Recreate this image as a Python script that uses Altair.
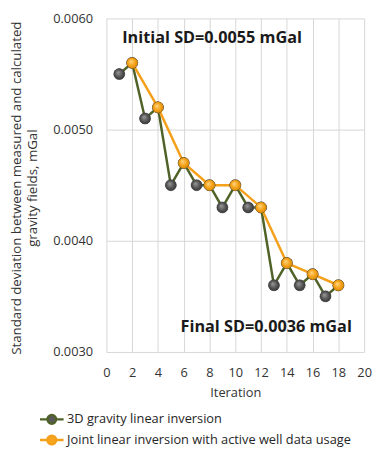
import altair as alt
import pandas as pd

# Data
iter_3d = list(range(1, 19))
sd_3d = [0.0055, 0.0056, 0.0051, 0.0052, 0.0045, 0.0047, 0.0045, 0.0045, 0.0043,
         0.0045, 0.0043, 0.0043, 0.0036, 0.0038, 0.0036, 0.0037, 0.0035, 0.0036]
iter_joint = [2, 4, 6, 8, 10, 12, 14, 16, 18]
sd_joint = [0.0056, 0.0052, 0.0047, 0.0045, 0.0045, 0.0043, 0.0038, 0.0037, 0.0036]
series_names = ["3D gravity linear inversion", "Joint linear inversion with active well data usage"]

ann_text = ["Initial SD=0.0055 mGal", "Final SD=0.0036 mGal"]
ann_x = [8.2, 12.4]
ann_y = [0.00582, 0.00322]

x_ticks = list(range(0, 21, 2))
y_ticks = [0.0030, 0.0040, 0.0050, 0.0060]

df = pd.DataFrame({
    "Iteration": iter_3d + iter_joint,
    "SD": sd_3d + sd_joint,
    "Series": [series_names[0]] * len(iter_3d) + [series_names[1]] * len(iter_joint),
})
ann = pd.DataFrame({"text": ann_text, "Iteration": ann_x, "SD": ann_y})

FONT = "Open Sans"
line_colors = ["#4f6228", "#f5a01a"]
fill_colors = ["#595959", "#f7a51e"]

xenc = alt.X("Iteration:Q", scale=alt.Scale(domain=[0, 20], nice=False),
             axis=alt.Axis(values=x_ticks, title="Iteration", labelPadding=15, titlePadding=7,
                           labelOverlap=False, labelFlush=False, grid=True,
                           gridColor="#d6d6d6", gridWidth=1, tickSize=0))
yenc = alt.Y("SD:Q", scale=alt.Scale(domain=[0.003, 0.006], nice=False, zero=False),
             axis=alt.Axis(values=y_ticks, format=".4f", grid=True, labelOverlap=False,
                           gridColor="#d6d6d6", gridWidth=1, tickSize=0,
                           title=["Standard deviation between measured and calculated",
                                  "gravity fields, mGal"],
                           labelPadding=14, titlePadding=13, titleFontSize=13.5,
                           titleLineHeight=17, titleY=172))

legend_path = ("M-3,0 L-1.1,0 M1.1,0 L3,0 "
               "M1.1,0 A1.1,1.1 0 1,1 -1.1,0 A1.1,1.1 0 1,1 1.1,0 Z")

legend = alt.Legend(title=None, orient="none", legendX=-62, legendY=401,
                    symbolType=legend_path, symbolSize=64, symbolStrokeWidth=2.5,
                    labelFontSize=13, labelFont=FONT, labelColor="#262626",
                    rowPadding=2, labelOffset=9, labelLimit=400)

lines = alt.Chart(df).mark_line(strokeWidth=2.5).encode(
    x=xenc, y=yenc,
    stroke=alt.Stroke("Series:N", scale=alt.Scale(domain=series_names, range=line_colors),
                      legend=legend),
)
points = alt.Chart(df).mark_circle(size=125, opacity=1, stroke="#3a3a3a", strokeWidth=0.5).encode(
    x=xenc, y=yenc,
    fill=alt.Fill("Series:N", scale=alt.Scale(domain=series_names, range=fill_colors),
                  legend=legend),
)

def shaded(name, c0, c1, c2):
    grad = alt.RadialGradient(
        gradient="radial", x1=0.38, y1=0.35, r1=0.0, x2=0.5, y2=0.5, r2=0.55,
        stops=[alt.GradientStop(color=c0, offset=0),
               alt.GradientStop(color=c1, offset=0.55),
               alt.GradientStop(color=c2, offset=1)])
    return alt.Chart(df).transform_filter(alt.datum.Series == name).mark_circle(
        size=125, opacity=1, fill=grad, stroke=None
    ).encode(x=xenc, y=yenc)

shade_3d = shaded(series_names[0], "#9c9c9c", "#5a5a5a", "#333333")
shade_joint = shaded(series_names[1], "#ffd98a", "#f7a51e", "#d68600")

texts = alt.Chart(ann).mark_text(font=FONT, fontSize=16.5, fontWeight="bold", color="#1a1a1a").encode(
    x=xenc, y=yenc, text="text:N"
)

chart = alt.layer(lines, points, shade_3d, shade_joint, texts).properties(
    width=262, height=339,
    autosize=alt.AutoSizeParams(type="none"),
    padding={"left": 100, "top": 7, "right": 10, "bottom": 93},
).configure_axis(
    grid=True, gridColor="#d6d6d6", gridWidth=1, gridOpacity=1, domain=False,
    labelFont=FONT, labelFontSize=13, labelColor="#333333",
    titleFont=FONT, titleFontSize=13, titleColor="#333333", titleFontWeight="normal",
).configure_view(stroke=None)

chart.save("out.html", embed_options={"renderer": "svg", "actions": False})
